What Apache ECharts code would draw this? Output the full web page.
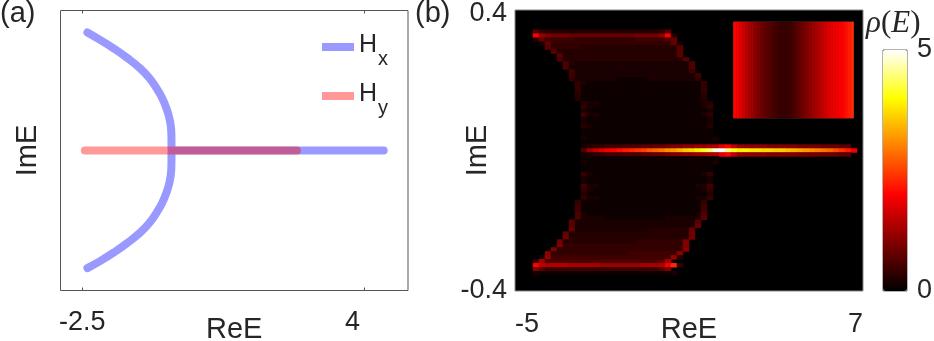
<!DOCTYPE html>
<html>
<head>
<meta charset="utf-8">
<style>
html, body { margin: 0; padding: 0; background: #fff; }
#main { width: 934px; height: 341px; }
</style>
<script src="https://cdn.jsdelivr.net/npm/echarts@6/dist/echarts.min.js"></script>
</head>
<body>
<div id="main"></div>
<script>
// panel (a), [ReE, ImE]
var hxUpper = [[-2.38, 0.337], [-2.09, 0.316], [-1.78, 0.292], [-1.47, 0.265], [-1.17, 0.235], [-0.96, 0.208], [-0.79, 0.178], [-0.66, 0.15], [-0.56, 0.12], [-0.49, 0.09], [-0.45, 0.055], [-0.44, 0], [-0.44, 0]];
var hxRight = [[4.44, 0], [-0.44, 0], [-0.44, 0]];
var hxLower = [[-0.45, -0.055], [-0.49, -0.09], [-0.56, -0.12], [-0.66, -0.15], [-0.79, -0.178], [-0.96, -0.208], [-1.17, -0.235], [-1.47, -0.265], [-1.78, -0.292], [-2.09, -0.316], [-2.38, -0.336]];
var hyLine = [[-2.44, 0], [2.44, 0]];
var ticksA = [-2.5, 4];
var ticksReB = [-5, 7];
var ticksImB = [-0.4, 0.4];

// panel (b), one character per cell in steps of 0.1 (base 36), rows start at column 2
var densityTop = [
  '',
  '',
  '',
  '',
  '',
  '07433333333333333333334700000000000',
  '0kca999888888888889999bk30000000000',
  '0385555544444444445555568',
  '00284444444444444444444482',
  '00074444433333333333333337',
  '00007333333333333333333337',
  '00000733333333333333333337',
  '000006333333333333333333337',
  '0000006322222222222222222226',
  '0000006222222222222222222226',
  '0000000522222222222222222225',
  '00000005222222222222222222225',
  '00000004222222211111222222224',
  '000000004211111111111111111114',
  '000000004111111111111111111114',
  '000000004111111111111111111114',
  '000000003111111111111111111113',
  '000000003111111111111111111113',
  '0000000003221111111111111111123',
  '0000000004211111111111111111124',
  '0000000002111111111111111111112',
  '0000000005221111111111111111124',
  '0000000002111111111111111111112',
  '0000000002111111111111111111112',
  '0000000003211111111111111111113',
  '0000000001111111111111111111111',
  '0000000001111111111111111111111',
  '00000000021111111111111111111112',
  '00000000011111111111111111111111',
  '000000000234455566677889aabbccdeikfcbbbbaaaaa999988877'
];
var centerRow = [0.6, 1.2, 1.5, 1.7, 1.9, 2.0, 2.1, 2.2, 2.3, 2.4, 2.5, 2.7, 2.8, 2.9, 3.1, 3.2, 3.4, 3.6, 3.7, 3.9, 4.1, 4.4, 4.9, 5.0, 4.5, 4.1, 3.9, 3.9, 3.8, 3.8, 3.7, 3.7, 3.6, 3.6, 3.5, 3.4, 3.3, 3.2, 3.1, 3.0, 2.9, 2.8, 2.6, 2.4, 2.2, 1.9];
var centerFirstCol = 11;
var densityBottom = [
  '000000000234455566677889aabbccdeikfcbbbbaaaaa999988877',
  '00000000011111111111111111111111',
  '00000000021111111111111111111112',
  '0000000001111111111111111111111',
  '0000000001111111111111111111111',
  '0000000004211111111111111111124',
  '0000000002111111111111111111112',
  '0000000002111111111111111111112',
  '0000000005221111111111111111225',
  '0000000004211111111111111111124',
  '0000000003111111111111111111113',
  '0000000004221111111111111111224',
  '000000004111111111111111111114',
  '000000005111111111111111111115',
  '000000005111111111111111111115',
  '000000006211111111111111111126',
  '000000006222211111111112222227',
  '00000007222222222222222222227',
  '00000007222222222222222222228',
  '0000000822222222222233333338',
  '0000008333333333333333333339',
  '0000009333333333333333333339',
  '00000933333333333344444444a',
  '00000a44444444444444444444a',
  '0000a444444444444444444444b',
  '000b444444444444455555555b',
  '002c55555555555555555555c3',
  '04d66666666666666666667d',
  '0kfeeeedddddcccccccdddejn4',
  '0a755555555555555555557a',
  '0211111111111111111111112',
  '',
  '',
  '',
  ''
];

// inset, left to right
var insetValues = [2.0, 1.9, 1.75, 1.6, 1.45, 1.3, 1.2, 1.05, 0.95, 0.85, 0.75, 0.7, 0.62, 0.55, 0.5, 0.45, 0.42, 0.42, 0.45, 0.5, 0.6, 0.7, 0.8, 0.9, 1.0, 1.1, 1.2, 1.3, 1.4, 1.5, 1.6, 1.7, 1.8, 1.85, 1.9, 1.95, 2.0, 2.1, 2.2, 2.3];

var hotColors = ['#000000', '#400000', '#800000', '#bf0000', '#ff0000', '#ff4000', '#ff8000', '#ffbf00', '#ffff00', '#ffff80', '#ffffff'];

var textColor = '#262626';
var fontName = '"Liberation Sans", Arial, sans-serif';
var nCols = 58;

function range(n) {
  var out = [];
  for (var i = 0; i < n; i++) out.push(i);
  return out;
}

// rows to [col, row, value], empty cells are left out
function buildDensity() {
  var out = [];
  function addRows(rows, firstRow) {
    rows.forEach(function (s, r) {
      for (var i = 0; i < s.length; i++) {
        var v = parseInt(s[i], 36) / 10;
        if (v > 0) out.push([i + 2, firstRow + r, v]);
      }
    });
  }
  addRows(densityTop, 0);
  centerRow.forEach(function (v, i) {
    out.push([centerFirstCol + i, densityTop.length, v]);
  });
  addRows(densityBottom, densityTop.length + 1);
  return out;
}

var nRows = densityTop.length + 1 + densityBottom.length;
var chart = echarts.init(document.getElementById('main'));

chart.setOption({
  animation: false,
  backgroundColor: '#fff',
  textStyle: { fontFamily: fontName, color: textColor },
  title: [
    { text: '(a)', left: 0, top: -1, padding: 0, textStyle: { fontSize: 29, fontWeight: 'normal', color: textColor } },
    { text: '(b)', left: 415, top: -1, padding: 0, textStyle: { fontSize: 29, fontWeight: 'normal', color: textColor } },
    {
      text: '{i|ρ}{n|(}{i|E}{n|)}', left: 866, top: 8, padding: 0,
      textStyle: {
        rich: {
          i: { fontFamily: '"Liberation Serif", serif', fontStyle: 'italic', fontWeight: 'normal', fontSize: 31, color: textColor },
          n: { fontFamily: '"Liberation Serif", serif', fontWeight: 'normal', fontSize: 31, color: textColor }
        }
      }
    }
  ],
  legend: {
    data: ['Hx', 'Hy'],
    orient: 'vertical',
    left: 322,
    top: 33,
    padding: 0,
    itemGap: 13,
    itemWidth: 32,
    itemHeight: 8,
    icon: 'rect',
    selectedMode: false,
    formatter: function (name) {
      return '{h|H}{s|' + name.charAt(1) + '}';
    },
    textStyle: {
      rich: {
        h: { fontSize: 25, color: textColor, height: 34, padding: [0, 0, 3, 0] },
        s: { fontSize: 20, color: textColor, height: 34, padding: [24, 0, 0, 1] }
      }
    }
  },
  grid: [
    { left: 60.5, top: 10.5, width: 347.5, height: 280, outerBoundsMode: 'none', show: true, borderColor: '#555', borderWidth: 1 },
    { left: 515, top: 10, width: 348, height: 281, outerBoundsMode: 'none', show: true, backgroundColor: '#000', borderColor: '#888', borderWidth: 1 },
    { left: 733.5, top: 22, width: 120, height: 96, outerBoundsMode: 'none', show: true, borderColor: '#333', borderWidth: 1 },
    { left: 883, top: 50, width: 24, height: 241, outerBoundsMode: 'none', show: true, borderColor: '#666', borderWidth: 1 }
  ],
  xAxis: [
    {
      type: 'value', gridIndex: 0, min: -3, max: 5, position: 'bottom',
      name: 'ReE', nameLocation: 'middle', nameGap: 25, nameMoveOverlap: false,
      nameTextStyle: { fontSize: 29, color: textColor },
      splitLine: { show: false },
      axisLine: { show: false, onZero: false },
      axisTick: { show: true, inside: true, length: 3, customValues: ticksA, lineStyle: { color: '#555' } },
      axisLabel: {
        customValues: ticksA, margin: 19, fontSize: 27, color: textColor,
        formatter: function (v) { return v === 4 ? '{shift|4}' : String(v); },
        rich: { shift: { fontSize: 27, color: textColor, padding: [0, 24, 0, 0] } }
      }
    },
    {
      type: 'value', gridIndex: 0, min: -3, max: 5, position: 'top',
      splitLine: { show: false },
      axisLine: { show: false, onZero: false },
      axisTick: { show: true, inside: true, length: 3, customValues: ticksA, lineStyle: { color: '#555' } },
      axisLabel: { show: false }
    },
    {
      type: 'value', gridIndex: 1, min: -5, max: 7, position: 'bottom',
      name: 'ReE', nameLocation: 'middle', nameGap: 24, nameMoveOverlap: false,
      nameTextStyle: { fontSize: 29, color: textColor },
      splitLine: { show: false },
      axisLine: { show: false, onZero: false },
      axisTick: { show: false },
      axisLabel: {
        customValues: ticksReB, margin: 20, fontSize: 27, color: textColor,
        alignMinLabel: 'left', alignMaxLabel: 'right'
      }
    },
    { type: 'category', gridIndex: 1, data: range(nCols), show: false, position: 'top' },
    { type: 'category', gridIndex: 2, data: range(insetValues.length), show: false },
    { type: 'value', gridIndex: 3, show: false }
  ],
  yAxis: [
    {
      type: 'value', gridIndex: 0, min: -0.4, max: 0.4,
      name: 'ImE', nameLocation: 'middle', nameGap: 18, nameRotate: 90,
      nameTextStyle: { fontSize: 29, color: textColor },
      splitLine: { show: false },
      axisLine: { show: false, onZero: false },
      axisTick: { show: false },
      axisLabel: { show: false }
    },
    {
      type: 'value', gridIndex: 1, min: -0.4, max: 0.4,
      name: 'ImE', nameLocation: 'middle', nameGap: 23, nameRotate: 90, nameMoveOverlap: false,
      nameTextStyle: { fontSize: 29, color: textColor },
      splitLine: { show: false },
      axisLine: { show: false, onZero: false },
      axisTick: { show: false },
      axisLabel: {
        customValues: ticksImB, margin: 8, fontSize: 27, color: textColor,
        formatter: function (v) { return v > 0 ? '{top|' + v + '}' : String(v); },
        rich: { top: { fontSize: 27, color: textColor, padding: [8, 0, 0, 0] } }
      }
    },
    { type: 'category', gridIndex: 1, data: range(nRows), inverse: true, show: false, position: 'right' },
    { type: 'category', gridIndex: 2, data: [0], show: false },
    {
      type: 'value', gridIndex: 3, min: 0, max: 5, interval: 5, position: 'right',
      splitLine: { show: false },
      axisLine: { show: false, onZero: false },
      axisTick: { show: false },
      axisLabel: { margin: 10, fontSize: 27, color: textColor }
    }
  ],
  visualMap: {
    type: 'continuous',
    seriesIndex: [2, 3],
    min: 0,
    max: 5,
    left: 883,
    top: 50,
    itemWidth: 24,
    itemHeight: 241,
    padding: 0,
    calculable: false,
    realtime: false,
    text: null,
    showLabel: false,
    inRange: { color: hotColors }
  },
  series: [
    {
      name: 'Hx', type: 'line', xAxisIndex: 0, yAxisIndex: 0, showSymbol: false, silent: true, smooth: 0.5,
      data: hxUpper.concat(hxRight, hxLower),
      itemStyle: { color: 'rgba(0,0,255,0.4)' },
      lineStyle: { color: 'rgba(0,0,255,0.4)', width: 8, cap: 'round', join: 'round' }
    },
    {
      name: 'Hy', type: 'line', xAxisIndex: 0, yAxisIndex: 0, showSymbol: false, silent: true,
      data: hyLine,
      itemStyle: { color: 'rgba(255,0,0,0.4)' },
      lineStyle: { color: 'rgba(255,0,0,0.4)', width: 8, cap: 'round' }
    },
    {
      type: 'heatmap', xAxisIndex: 3, yAxisIndex: 2, silent: true, progressive: 0,
      data: buildDensity()
    },
    {
      type: 'heatmap', xAxisIndex: 4, yAxisIndex: 3, silent: true, progressive: 0,
      data: insetValues.map(function (v, i) { return [i, 0, v]; })
    }
  ]
});
</script>
</body>
</html>
